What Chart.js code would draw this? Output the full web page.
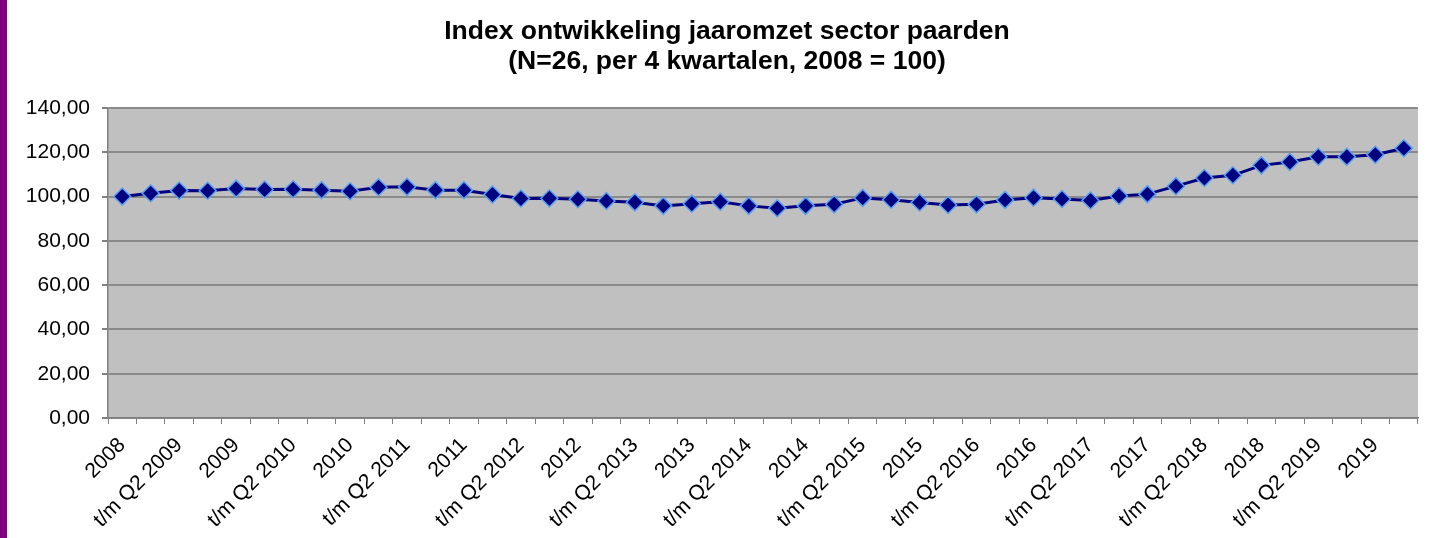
<!DOCTYPE html>
<html>
<head>
<meta charset="utf-8">
<script src="https://cdn.jsdelivr.net/npm/chart.js@4"></script>
<style>
  html, body { margin: 0; padding: 0; background: #fff; }
  #wrap { position: relative; width: 1432px; height: 538px; }
  #strip { position: absolute; left: 0; top: 0; width: 7px; height: 538px; background: #800080; }
  #title {
    position: absolute; left: 27px; top: 15px; width: 1400px;
    text-align: center; font: bold 26.5px 'Liberation Sans', Arial, sans-serif;
    line-height: 30px; color: #000;
  }
  canvas { position: absolute; left: 0; top: 0; }
</style>
</head>
<body>
<div id="wrap">
  <div id="strip"></div>
  <canvas id="chart" width="1432" height="538"></canvas>
  <div id="title"></div>
</div>
<script>
// Periods (rolling 4 quarters), every other one gets a label on the axis
const periods = [
  '2008', 't/m Q1 2009', 't/m Q2 2009', 't/m Q3 2009',
  '2009', 't/m Q1 2010', 't/m Q2 2010', 't/m Q3 2010',
  '2010', 't/m Q1 2011', 't/m Q2 2011', 't/m Q3 2011',
  '2011', 't/m Q1 2012', 't/m Q2 2012', 't/m Q3 2012',
  '2012', 't/m Q1 2013', 't/m Q2 2013', 't/m Q3 2013',
  '2013', 't/m Q1 2014', 't/m Q2 2014', 't/m Q3 2014',
  '2014', 't/m Q1 2015', 't/m Q2 2015', 't/m Q3 2015',
  '2015', 't/m Q1 2016', 't/m Q2 2016', 't/m Q3 2016',
  '2016', 't/m Q1 2017', 't/m Q2 2017', 't/m Q3 2017',
  '2017', 't/m Q1 2018', 't/m Q2 2018', 't/m Q3 2018',
  '2018', 't/m Q1 2019', 't/m Q2 2019', 't/m Q3 2019',
  '2019', 't/m Q1 2020'
];

const indexValues = [
  100.0, 101.5, 102.7, 102.6, 103.6, 103.2, 103.3, 102.9,
  102.4, 104.2, 104.4, 102.9, 102.9, 100.9, 99.1, 99.2,
  98.8, 98.0, 97.4, 95.8, 96.8, 97.7, 95.8, 94.7,
  95.8, 96.5, 99.4, 98.6, 97.3, 96.2, 96.5, 98.5,
  99.5, 98.9, 98.2, 100.3, 101.1, 104.7, 108.4, 109.6,
  114.1, 115.6, 118.0, 118.0, 118.9, 121.8
];

const titleLines = [
  'Index ontwikkeling jaaromzet sector paarden',
  '(N=26, per 4 kwartalen, 2008 = 100)'
];

const yMin = 0, yMax = 140, yStep = 20;

// title sits a bit right of the canvas centre, so it is placed as html text
const titleEl = document.getElementById('title');
titleLines.forEach(t => {
  const d = document.createElement('div');
  d.textContent = t;
  titleEl.appendChild(d);
});

// grey plot area like the old Excel default
const plotBg = {
  id: 'plotBg',
  beforeDraw(chart) {
    const { ctx, chartArea: a } = chart;
    ctx.save();
    ctx.fillStyle = '#c0c0c0';
    ctx.fillRect(a.left, a.top, a.right - a.left, a.bottom - a.top);
    ctx.restore();
  }
};

const font = 'Liberation Sans, Arial, sans-serif';

new Chart(document.getElementById('chart').getContext('2d'), {
  type: 'line',
  data: {
    labels: periods,
    datasets: [{
      data: indexValues,
      borderColor: '#000080',
      borderWidth: 3,
      pointStyle: 'rectRot',
      pointRadius: 8.5,
      pointBackgroundColor: '#000080',
      pointBorderColor: '#5aa0f0',
      pointBorderWidth: 1.5,
      tension: 0,
      fill: false,
    }]
  },
  options: {
    responsive: false,
    animation: false,
    layout: { padding: { left: 0, right: 14, top: 108, bottom: 0 } },
    plugins: {
      legend: { display: false },
      tooltip: { enabled: false },
      title: { display: false },
    },
    scales: {
      x: {
        offset: true,
        grid: {
          offset: true,
          drawOnChartArea: false,
          drawTicks: true,
          tickLength: 6,
          color: '#808080',
        },
        border: { color: '#808080', width: 1.5 },
        ticks: {
          autoSkip: false,
          minRotation: 45,
          maxRotation: 45,
          color: '#000',
          padding: 9,
          font: { family: font, size: 21 },
          callback: (v, i) => (i % 2 === 0 ? periods[i] : ''),
        },
        afterFit: (s) => { s.height = 120; },
      },
      y: {
        min: yMin,
        max: yMax,
        grid: {
          color: '#8a8a8a',
          lineWidth: 2,
          tickLength: 6,
          tickColor: '#808080',
        },
        border: { color: '#808080', width: 1.5 },
        ticks: {
          stepSize: yStep,
          color: '#000',
          padding: 12,
          font: { family: font, size: 21 },
          callback: (v) => v.toFixed(2).replace('.', ','),
        },
        afterFit: (s) => { s.width = 108; },
      }
    }
  },
  plugins: [plotBg]
});
</script>
</body>
</html>
